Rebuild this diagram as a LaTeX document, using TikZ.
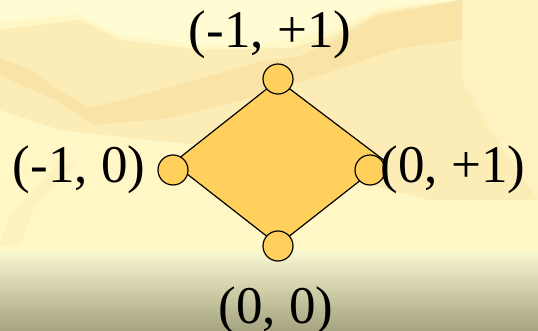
\documentclass[tikz,border=0pt]{standalone}
\usepackage{fontspec}
\setmainfont{Liberation Serif}
\definecolor{bgbase}{RGB}{255,247,198}
\definecolor{bglight}{RGB}{255,251,210}
\definecolor{bgmid}{RGB}{252,236,182}
\definecolor{bgdark}{RGB}{249,227,166}
\definecolor{bgfaint}{RGB}{254,241,192}
\definecolor{bgpanel}{RGB}{254,242,192}
\definecolor{bandtop}{RGB}{251,249,210}
\definecolor{bandbot}{RGB}{165,163,128}
\definecolor{nodefill}{RGB}{255,208,92}
\usetikzlibrary{positioning}

\begin{document}
\begin{tikzpicture}[x=1pt,y=-1pt,
    vertex/.style={circle,draw,line width=1.2pt,fill=nodefill,minimum size=30pt,inner sep=0pt},
    pairlabel/.style={font=\fontsize{53}{60}\selectfont,anchor=base,inner sep=0pt}]
        \useasboundingbox (0,0) rectangle (538,331);
        % background
        \fill[bgbase] (0,0) rectangle (538,331);
        \fill[bglight] (0,0) -- (460,0) -- (380,8) -- (330,30) -- (260,45) -- (200,45)
          -- (120,35) -- (80,14) -- (0,22) -- cycle;
        \fill[bgmid] (0,30) -- (80,20) -- (120,40) -- (200,50) -- (290,48) -- (335,35)
          -- (380,12) -- (462,0) -- (462,80) -- (490,130) -- (538,200) -- (430,200)
          -- (330,175) -- (250,150) -- (150,140) -- (60,130) -- (0,110) -- cycle;
        \fill[bgdark] (0,58) -- (35,72) -- (55,88) -- (90,108) -- (130,98) -- (195,80)
          -- (260,62) -- (300,56) -- (335,40) -- (380,15) -- (450,2) -- (462,0)
          -- (462,40) -- (400,48) -- (330,72) -- (250,98) -- (170,118) -- (95,125)
          -- (55,100) -- (0,75) -- cycle;
        \fill[bgmid] (350,85) -- (462,80) -- (462,100) -- (360,95) -- cycle;
        \fill[bgpanel] (462,0) -- (538,0) -- (538,200) -- (490,130) -- (462,80) -- cycle;
        \fill[bgfaint] (0,245) -- (10,215) -- (25,200) -- (60,160) -- (75,165) -- (35,205)
          -- (20,245) -- cycle;
        \shade[top color=bandtop,bottom color=bandbot] (0,250) rectangle (538,331);
        % lattice
        \coordinate (ctop) at (278,80);
        \coordinate (cright) at (385,161);
        \coordinate (cbot) at (278,245);
        \coordinate (cleft) at (173,163);
        \filldraw[fill=nodefill,draw=black,line width=1.2pt] (ctop) -- (cright) -- (cbot) -- (cleft) -- cycle;
        \node[vertex] (top) at (278,79) {};
        \node[vertex] (left) at (173,170) {};
        \node[vertex] (right) at (370,170) {};
        \node[vertex] (bot) at (278,246) {};
        \node[pairlabel] (ltop) at (270,48) {(-1, +1)};
        \node[pairlabel] (lleft) at (79,183) {(-1, 0)};
        \node[pairlabel] (lright) at (453,183) {(0, +1)};
        \node[pairlabel] (lbot) at (276,323) {(0, 0)};
      \end{tikzpicture}
\end{document}
